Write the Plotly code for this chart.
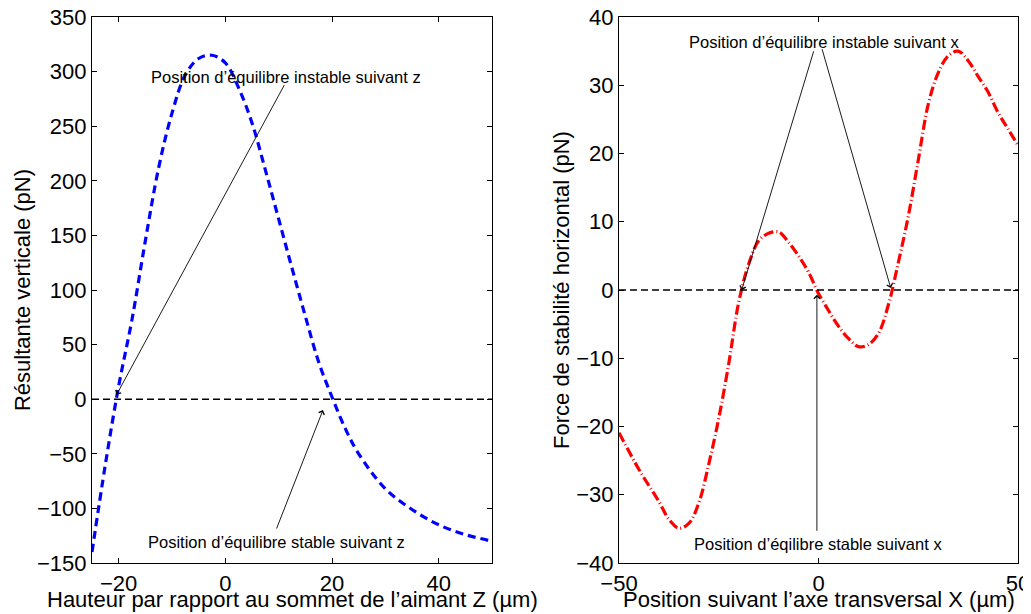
import plotly.graph_objects as go

# Left panel: vertical resultant vs height Z
z_um = [-25, -22.5, -20, -17.5, -15, -12.5, -10, -7.5, -5, -2.5, 0, 2.5, 5, 7.5,
        10, 12.5, 15, 17.5, 20, 22.5, 25, 30, 35, 40, 45, 50]
fz_pN = [-140, -60, 12, 73, 145, 212, 262, 297, 312, 315, 308, 285, 253, 210,
         165, 120, 76, 34, 2, -27, -50, -82, -101, -115, -124, -130]

# Right panel: horizontal stability force vs transverse position X
x_um = [-50, -45, -40, -37.5, -35, -32.5, -30, -27.5, -25, -22.5, -20, -17.5, -15,
        -12.5, -10, -7.5, -5, -2.5, 0, 2.5, 5, 7.5, 10, 12.5, 15, 17.5, 20, 22.5,
        25, 27.5, 30, 32.5, 35, 37.5, 40, 42.5, 45, 47.5, 50]
fx_pN = [-20.9, -26.3, -31.0, -33.6, -34.9, -34.2, -31.2, -25.5, -18.8, -10.8, -1.8,
         3.8, 7.2, 8.3, 8.5, 7.0, 5.0, 2.6, -0.5, -3.0, -5.3, -7.1, -8.3, -8.0, -6.4,
         -2.2, 4.0, 10.8, 19.0, 27.2, 31.8, 34.3, 35.0, 33.6, 31.3, 29.0, 26.0, 23.6,
         21.2]

z_range = [-25, 50]
fz_range = [-150, 350]
x_range = [-50, 50]
fx_range = [-40, 40]
z_ticks = [-20, 0, 20, 40]
fz_ticks = [-150, -100, -50, 0, 50, 100, 150, 200, 250, 300, 350]
x_ticks = [-50, 0, 50]
fx_ticks = [-40, -30, -20, -10, 0, 10, 20, 30, 40]

z_title = "Hauteur par rapport au sommet de l\u2019aimant Z (\u00b5m)"
fz_title = "R\u00e9sultante verticale (pN)"
x_title = "Position suivant l\u2019axe transversal X (\u00b5m)"
fx_title = "Force de stabilit\u00e9 horizontal (pN)"


def lab(v):
    return ("\u2212" + str(-v)) if v < 0 else str(v)


FONT = "Liberation Sans, Arial, Helvetica, sans-serif"
W, H = 1031, 614
OFF = 8  # page body margin of the browser
ML, MT = 92 - OFF, 17 - OFF
MR = W - (1018 - OFF)
MB = H - (563 - OFF)
PW = W - ML - MR
PH = H - MT - MB

fig = go.Figure()
fig.add_trace(go.Scatter(x=z_um, y=fz_pN, mode="lines", line_shape="spline",
                         line=dict(color="#0000ff", width=3.2, dash="8px,5px"),
                         xaxis="x", yaxis="y", showlegend=False, hoverinfo="skip"))
fig.add_trace(go.Scatter(x=z_range, y=[0, 0], mode="lines",
                         line=dict(color="black", width=1.6, dash="7px,4px"),
                         xaxis="x", yaxis="y", showlegend=False, hoverinfo="skip"))
fig.add_trace(go.Scatter(x=x_um, y=fx_pN, mode="lines", line_shape="spline",
                         line=dict(color="#ff0000", width=3.2, dash="10px,3px,1px,3px"),
                         xaxis="x2", yaxis="y2", showlegend=False, hoverinfo="skip"))
fig.add_trace(go.Scatter(x=x_range, y=[0, 0], mode="lines",
                         line=dict(color="black", width=1.6, dash="7px,4px"),
                         xaxis="x2", yaxis="y2", showlegend=False, hoverinfo="skip"))

axis_common = dict(showgrid=False, zeroline=False, ticks="inside", ticklen=5,
                   tickwidth=1, tickcolor="black", showline=True, linecolor="black",
                   linewidth=1.2, mirror="ticks", automargin=False,
                   ticklabeloverflow="allow",
                   tickfont=dict(family=FONT, size=22, color="black"))
title_font = dict(family=FONT, size=22, color="black")

fig.update_layout(
    width=W, height=H,
    margin=dict(l=ML, r=MR, t=MT, b=MB, autoexpand=False),
    paper_bgcolor="white", plot_bgcolor="white",
    xaxis=dict(domain=[0, 400 / PW], range=z_range, tickvals=z_ticks,
               ticktext=[lab(v) for v in z_ticks], anchor="y", **axis_common),
    yaxis=dict(domain=[0, 1], range=fz_range, tickvals=fz_ticks,
               ticktext=[lab(v) for v in fz_ticks],
               title=dict(text=fz_title, font=title_font, standoff=0),
               anchor="x", **axis_common),
    xaxis2=dict(domain=[(619 - 92) / PW, 1], range=x_range, tickvals=x_ticks,
                ticktext=[lab(v) for v in x_ticks], anchor="y2", **axis_common),
    yaxis2=dict(domain=[0, 1], range=fx_range, tickvals=fx_ticks,
                ticktext=[lab(v) for v in fx_ticks],
                title=dict(text=fx_title, font=title_font, standoff=0),
                anchor="x2", **axis_common),
)

# x-axis titles placed just under the tick labels (window y ~ 599)
title_y = (563 - 599) / PH
fig.add_annotation(x=0.5, xref="x domain", y=title_y, yref="paper", text=z_title,
                   showarrow=False, font=title_font, xanchor="center", yanchor="middle")
fig.add_annotation(x=0.5, xref="x2 domain", y=title_y, yref="paper", text=x_title,
                   showarrow=False, font=title_font, xanchor="center", yanchor="middle")

ann_font = dict(family=FONT, size=16.5, color="black")


def arrow(xref, yref, tip, tail):
    fig.add_annotation(x=tip[0], y=tip[1], ax=tail[0], ay=tail[1], xref=xref, yref=yref,
                       axref=xref, ayref=yref, text="", showarrow=True, arrowhead=4,
                       arrowsize=1.3, arrowwidth=0.9, arrowcolor="black")


def label(xref, yref, pos, text):
    fig.add_annotation(x=pos[0], y=pos[1], xref=xref, yref=yref, text=text,
                       showarrow=False, font=ann_font, xanchor="center", yanchor="middle")


# Left annotations
label("x", "y", (11.3, 295.5), "Position d\u2019\u00e9quilibre instable suivant z")
arrow("x", "y", (-20.4, 4), (11.2, 289))
label("x", "y", (9.56, -130.8), "Position d\u2019\u00e9quilibre stable suivant z")
arrow("x", "y", (18.3, -10), (9.5, -119.8))

# Right annotations
label("x2", "y2", (1.3, 36.3), "Position d\u2019\u00e9quilibre instable suivant x")
arrow("x2", "y2", (-19.25, 0), (-1.1, 35.2))
arrow("x2", "y2", (18.1, 0.3), (0.8, 35.5))
label("x2", "y2", (-0.18, -37.2), "Position d\u2019\u00e9qilibre stable suivant x")
arrow("x2", "y2", (-0.4, -0.7), (-0.4, -35.5))

fig.write_html("out.html")
